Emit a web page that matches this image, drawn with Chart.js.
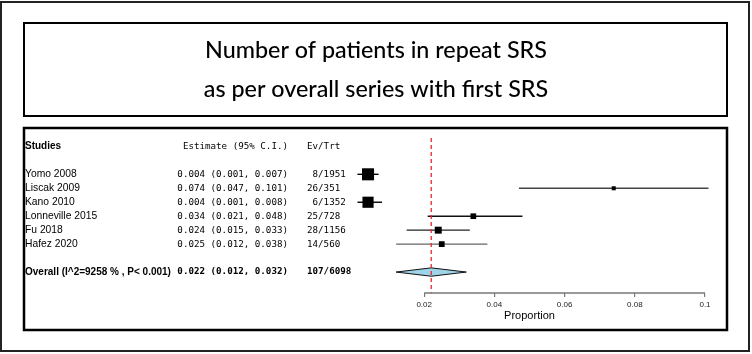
<!DOCTYPE html>
<html>
<head>
<meta charset="utf-8">
<script src="https://cdn.jsdelivr.net/npm/chart.js@4.4.1/dist/chart.umd.min.js"></script>
<style>
  html, body { margin: 0; padding: 0; background: #fff; }
  #wrap { width: 752px; height: 354px; position: relative; }
</style>
</head>
<body>
<div id="wrap"><canvas id="forest"></canvas></div>
<script>
// Study data (proportions)
const studies = ['Yomo 2008', 'Liscak 2009', 'Kano 2010', 'Lonneville 2015', 'Fu 2018', 'Hafez 2020'];
const estimates = [0.004, 0.074, 0.004, 0.034, 0.024, 0.025];
const lower = [0.001, 0.047, 0.001, 0.021, 0.015, 0.012];
const upper = [0.007, 0.101, 0.008, 0.048, 0.033, 0.038];
const events = [8, 26, 6, 25, 28, 14];
const totals = [1951, 351, 1352, 728, 1156, 560];
// Pooled result
const overallLabel = 'Overall (I^2=9258 % , P< 0.001)';
const overallEstimate = 0.022;
const overallLower = 0.012;
const overallUpper = 0.032;
// Axis
const tickValues = [0.02, 0.04, 0.06, 0.08, 0.1];
const tickLabels = ['0.02', '0.04', '0.06', '0.08', '0.1'];
const titleLines = ['Number of patients in repeat SRS', 'as per overall series with first SRS'];

const overallRow = studies.length + 1;
const ciColors = ['#000', '#444', '#000', '#111', '#222', '#666'];
const fmt = (v) => v.toFixed(3);
const estText = (e, l, u) => `${fmt(e)} (${fmt(l)}, ${fmt(u)})`;
const sum = (a) => a.reduce((s, v) => s + v, 0);

// one short line per confidence interval
const ciSets = studies.map((s, i) => ({
  type: 'line',
  data: [{ x: lower[i], y: i }, { x: upper[i], y: i }],
  borderColor: ciColors[i],
  borderWidth: 1.4,
  pointRadius: 0,
  clip: false,
}));

const ctx = document.getElementById('forest');
// eslint-disable-next-line no-unused-vars
const chart = new Chart(ctx, {
  type: 'scatter',
  data: {
    datasets: [
      // red dashed line at the pooled estimate
      {
        type: 'line',
        data: [{ x: overallEstimate, y: -2.6 }, { x: overallEstimate, y: 8.5 }],
        borderColor: '#e8262a',
        borderWidth: 1.3,
        borderDash: [4, 3],
        pointRadius: 0,
        clip: false,
        order: -1,
      },
      // study squares, sized by precision
      {
        data: studies.map((s, i) => ({ x: estimates[i], y: i })),
        pointStyle: 'rect',
        pointRadius: studies.map((s, i) => 0.66 * Math.sqrt(1 / (upper[i] - lower[i]))),
        backgroundColor: '#000',
        borderColor: '#000',
        borderWidth: 0,
        clip: false,
        order: 0,
      },
      ...ciSets,
    ],
  },
  options: {
    responsive: true,
    maintainAspectRatio: false,
    animation: false,
    layout: {
      padding: {
        top: 138, bottom: 29, left: 354, right: 47,
      },
    },
    scales: {
      x: {
        type: 'linear',
        min: 0,
        max: 0.1,
        afterBuildTicks: (scale) => {
          scale.ticks = tickValues.map((v) => ({ value: v }));
        },
        afterFit: (scale) => {
          scale.height = 32;
        },
        border: { display: false },
        grid: {
          drawOnChartArea: false,
          drawTicks: true,
          tickLength: 4,
          color: '#777',
          lineWidth: 1.2,
        },
        ticks: {
          autoSkip: false,
          maxRotation: 0,
          padding: 3,
          color: '#222',
          font: { family: 'Liberation Sans', size: 8 },
          callback: (value, index) => tickLabels[index],
        },
        title: {
          display: true,
          text: 'Proportion',
          color: '#000',
          font: { family: 'Liberation Sans', size: 11 },
          padding: { top: 0, bottom: 2 },
        },
      },
      y: {
        type: 'linear',
        min: -2.6,
        max: 8.5,
        reverse: true,
        display: false,
      },
    },
    plugins: {
      legend: { display: false },
      tooltip: { enabled: false },
    },
  },
  plugins: [{
    id: 'forestFrame',
    beforeDraw(c) {
      const g = c.ctx;
      g.save();
      g.fillStyle = '#fff';
      g.fillRect(0, 0, c.width, c.height);
      // outer frame, title box, plot box
      g.strokeStyle = '#222';
      g.lineWidth = 2;
      g.strokeRect(1, 2, 748, 349);
      g.strokeStyle = '#000';
      g.strokeRect(24, 23, 703, 93);
      g.lineWidth = 2.5;
      g.strokeRect(24, 128, 703, 202);
      // title
      g.fillStyle = '#000';
      g.font = '500 23.3px Lato';
      g.textAlign = 'center';
      g.textBaseline = 'middle';
      g.fillText(titleLines[0], 376, 50);
      g.fillText(titleLines[1], 376, 89);
      g.restore();
    },
    beforeDatasetsDraw(c) {
      // pooled diamond
      const g = c.ctx;
      const xs = c.scales.x;
      const ys = c.scales.y;
      const yc = ys.getPixelForValue(overallRow);
      const h = ys.getPixelForValue(overallRow + 0.3) - yc;
      g.save();
      g.beginPath();
      g.moveTo(xs.getPixelForValue(overallLower), yc);
      g.lineTo(xs.getPixelForValue(overallEstimate), yc - h);
      g.lineTo(xs.getPixelForValue(overallUpper), yc);
      g.lineTo(xs.getPixelForValue(overallEstimate), yc + h);
      g.closePath();
      g.fillStyle = '#9fd3e8';
      g.fill();
      g.strokeStyle = '#111';
      g.lineWidth = 1;
      g.stroke();
      g.restore();
    },
    afterDraw(c) {
      const g = c.ctx;
      const xs = c.scales.x;
      const ys = c.scales.y;
      g.save();
      // axis line only across the labelled range
      g.strokeStyle = '#777';
      g.lineWidth = 1.6;
      g.beginPath();
      g.moveTo(xs.getPixelForValue(tickValues[0]), xs.top);
      g.lineTo(xs.getPixelForValue(tickValues[tickValues.length - 1]), xs.top);
      g.stroke();
      // text columns
      g.fillStyle = '#000';
      g.textBaseline = 'middle';
      const mono = '9.2px "DejaVu Sans Mono"';
      const headY = ys.getPixelForValue(-2);
      g.font = 'bold 10px "Liberation Sans"';
      g.textAlign = 'left';
      g.fillText('Studies', 25, headY);
      g.font = mono;
      g.textAlign = 'right';
      g.fillText('Estimate (95% C.I.)', 288, headY);
      g.textAlign = 'left';
      g.fillText('Ev/Trt', 307, headY);
      studies.forEach((s, i) => {
        const y = ys.getPixelForValue(i);
        g.font = '10.3px "Liberation Sans"';
        g.textAlign = 'left';
        g.fillText(s, 25, y);
        g.font = mono;
        g.textAlign = 'right';
        g.fillText(estText(estimates[i], lower[i], upper[i]), 288, y);
        g.textAlign = 'left';
        g.fillText(`${String(events[i]).padStart(2, ' ')}/${totals[i]}`, 307, y);
      });
      const oy = ys.getPixelForValue(overallRow);
      g.font = 'bold 10px "Liberation Sans"';
      g.textAlign = 'left';
      g.fillText(overallLabel, 25, oy);
      g.font = `bold ${mono}`;
      g.textAlign = 'right';
      g.fillText(estText(overallEstimate, overallLower, overallUpper), 288, oy);
      g.textAlign = 'left';
      g.fillText(`${sum(events)}/${sum(totals)}`, 307, oy);
      g.restore();
    },
  }],
});
</script>
</body>
</html>
